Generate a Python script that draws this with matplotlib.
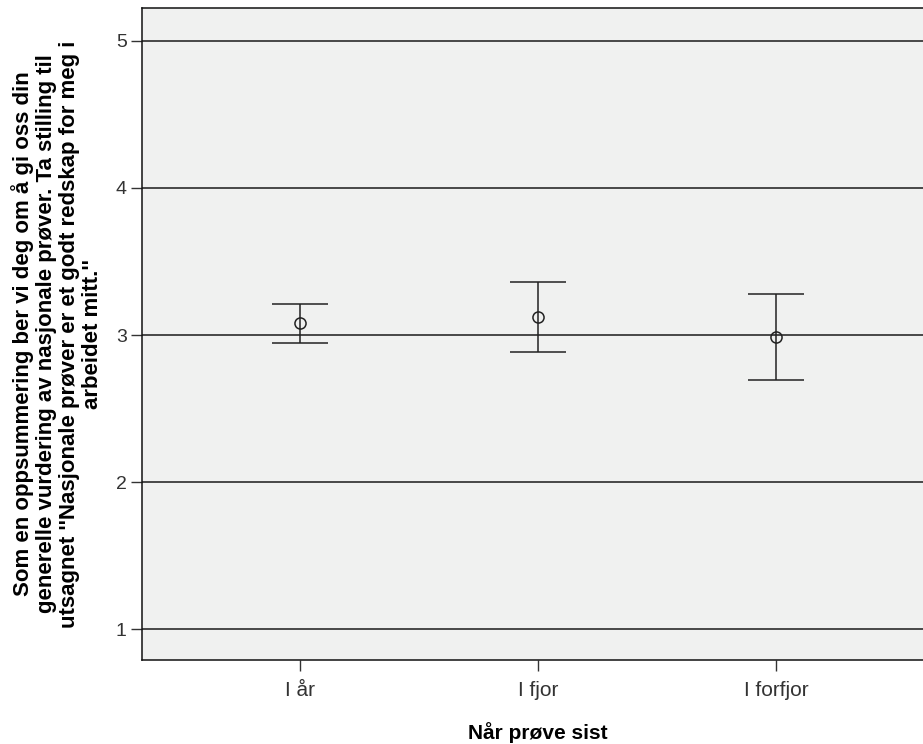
import matplotlib
matplotlib.use("Agg")
import matplotlib.pyplot as plt
import numpy as np

categories = ["I år", "I fjor", "I forfjor"]
means = [3.08, 3.12, 2.985]
upper = [3.211, 3.359, 3.276]
lower = [2.947, 2.884, 2.694]
yticks = [1, 2, 3, 4, 5]

plt.rcParams['font.family'] = ['Liberation Sans', 'DejaVu Sans']

W, H = 923, 744
fig = plt.figure(figsize=(W / 100, H / 100), dpi=100)
left, right, top, bottom = 142, 934, 8, 660
ax = fig.add_axes([left / W, 1 - bottom / H, (right - left) / W, (bottom - top) / H])
ax.set_facecolor('#F0F1F0')

x = np.arange(len(categories))
m = np.array(means)
yerr = np.vstack([m - np.array(lower), np.array(upper) - m])

for yv in yticks:
    ax.axhline(yv, color='#1a1a1a', lw=1.1, zorder=1)

ax.errorbar(x, m, yerr=yerr, fmt='o', mfc='none', mec='#222222', ms=8, mew=1.1,
            ecolor='#222222', elinewidth=1.1, capsize=20, capthick=1.1, zorder=3)

ax.set_xlim(-0.664, 2.664)
ax.set_ylim(0.79, 5.224)
ax.set_yticks(yticks)
ax.set_xticks(x)
ax.set_xticklabels(categories)
ax.tick_params(axis='both', direction='out', colors='#333333')
ax.tick_params(axis='y', length=8, width=1, pad=3, labelsize=14)
ax.tick_params(axis='x', length=8, width=1, pad=7, labelsize=15)
for s in ax.spines.values():
    s.set_color('#111111')
    s.set_linewidth(1.1)

ax.set_xlabel("Når prøve sist", fontsize=15, fontweight='bold', labelpad=16)
ax.set_ylabel("Som en oppsummering ber vi deg om å gi oss din\n"
              "generelle vurdering av nasjonale prøver. Ta stilling til\n"
              "utsagnet ''Nasjonale prøver er et godt redskap for meg i\n"
              "arbeidet mitt.''", fontsize=16, fontweight='bold',
              linespacing=1.13)
ax.yaxis.set_label_coords((103 - left) / (right - left), 0.5)

fig.savefig("out.png", dpi=100)
